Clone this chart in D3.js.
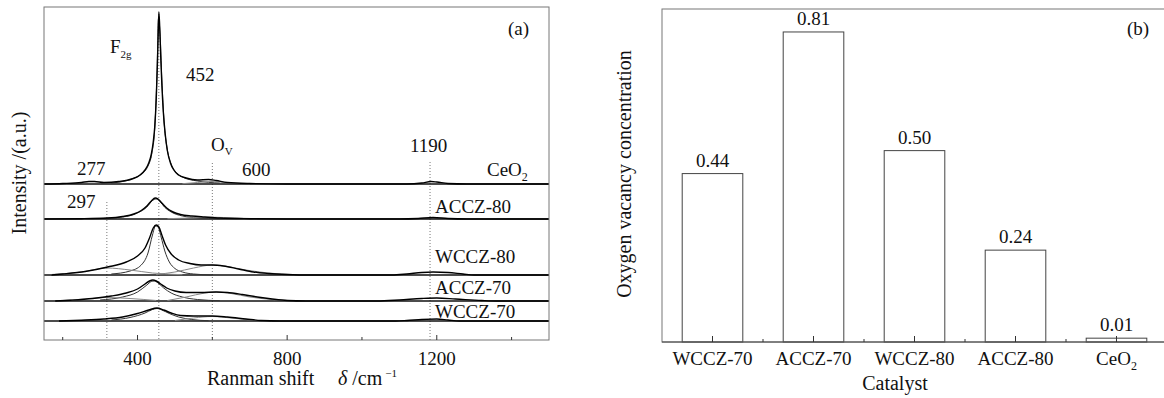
<!DOCTYPE html>
<html>
<head>
<meta charset="utf-8">
<script src="https://cdn.jsdelivr.net/npm/d3@7"></script>
<style>
  body { margin: 0; background: #fff; }
  svg text { font-family: "Liberation Serif", "DejaVu Serif", serif; fill: #111; }
</style>
</head>
<body>
<svg id="chart" width="1164" height="398"></svg>
<script>
// ---- panel (a): Raman spectra, [shift, intensity above baseline] ----
var sampleNames = ["CeO2", "ACCZ-80", "WCCZ-80", "ACCZ-70", "WCCZ-70"];
var sampleOffsets = [156, 121, 65, 39, 19];

var ceo2Measured = [[150,0],[200,0.5],[250,1.5],[270,2.5],[285,2.5],[310,1.5],[350,2.5],[385,5],[407,9],[420,14],[430,21],[437,30],[442,42],[446,57],[450,85],[453,118],[455,145],[457,172],[459,160],[462,128],[465,100],[469,72],[474,50],[480,33],[488,21],[497,14],[510,9],[530,6],[560,4],[590,4.5],[610,3.5],[640,1.5],[700,0.5],[800,0],[1120,0],[1160,1],[1185,2.5],[1200,2],[1230,0.5],[1280,0],[1500,0]];
var ceo2F2g = [[330,1],[380,4.5],[410,10],[428,18],[438,30],[446,55],[452,110],[456,165],[460,152],[465,105],[471,62],[478,38],[488,22],[500,13],[520,7],[560,3],[620,1]];
var ceo2Ov = [[520,0.3],[560,1.5],[600,2.5],[640,1.2],[700,0.2]];

var accz80Measured = [[150,0],[250,0.3],[320,1],[360,2.5],[390,5],[410,8.5],[425,13],[437,18],[447,21],[455,20],[465,16],[478,11],[495,7],[515,4.5],[545,3],[580,2],[620,1],[700,0.3],[800,0],[1100,0],[1150,0.5],[1190,1.5],[1230,0.5],[1280,0],[1500,0]];
var accz80F2g = [[300,0.5],[360,2],[400,6],[425,12],[440,18.5],[450,20],[460,17.5],[472,12],[490,7],[520,3],[560,1.2],[620,0.3]];
var accz80Ov = [[480,0.3],[540,1],[600,1.8],[660,1],[720,0.3]];

var wccz80Measured = [[170,0],[200,1],[260,3.5],[320,8],[370,13],[400,19],[420,27],[432,37],[442,47],[450,50],[457,48],[465,40],[475,30],[490,21],[510,15],[540,11.5],[570,10],[600,10],[630,9],[670,6],[710,3],[750,1.5],[800,0.5],[860,0],[1080,0],[1120,1],[1160,2.5],[1190,3],[1230,2.5],[1270,1],[1300,0],[1500,0]];
var wccz80F2g = [[330,1],[380,4],[410,10],[428,22],[440,40],[448,49],[455,48],[463,38],[473,24],[485,13],[500,6.5],[520,3],[550,1],[600,0]];
var wccz80Ov = [[450,0.5],[500,3],[550,7],[600,10],[640,8.5],[690,5],[750,2],[820,0.3]];
var wccz80Low = [[170,0.5],[250,3],[318,7],[380,5],[440,2],[520,0.3]];

var accz70Measured = [[180,0],[220,0.8],[280,2.5],[330,5],[370,8],[400,12],[420,17],[432,20],[441,21],[450,20],[462,17],[478,13],[500,10],[530,8.5],[570,8.5],[610,9],[640,8.5],[680,6.5],[720,4],[760,2],[800,0.5],[850,0],[1040,0],[1100,1],[1160,2.5],[1200,3],[1250,2],[1320,0.5],[1360,0],[1500,0]];
var accz70F2g = [[300,1],[360,4],[400,9],[425,16],[437,19.5],[445,20],[455,18],[470,13],[490,8],[520,4],[560,1.5],[620,0.3]];
var accz70Ov = [[480,0.5],[530,4],[580,8],[612,9],[650,7.5],[700,4],[760,1.5],[820,0.3]];
var accz70Low = [[200,0.5],[260,2],[318,3.5],[380,2.5],[450,0.5]];

var wccz70Measured = [[190,0],[250,0.8],[310,2],[360,4],[400,7.5],[430,11],[452,13],[470,11],[490,8],[515,5.5],[550,5],[600,5],[640,4],[690,2],[730,0.5],[780,0],[1090,0],[1120,0.5],[1160,1.5],[1200,2],[1230,1],[1260,0],[1500,0]];
var wccz70F2g = [[330,1],[380,3.5],[420,8],[440,11.5],[452,12.5],[465,11],[485,7.5],[510,4],[545,1.5],[590,0.3]];
var wccz70Ov = [[500,0.5],[550,3],[600,4.5],[650,3],[710,0.8],[760,0]];

var measuredCurves = [ceo2Measured, accz80Measured, wccz80Measured, accz70Measured, wccz70Measured];
var componentCurves = [
  [ceo2F2g, ceo2Ov],
  [accz80F2g, accz80Ov],
  [wccz80F2g, wccz80Ov, wccz80Low],
  [accz70F2g, accz70Ov, accz70Low],
  [wccz70F2g, wccz70Ov]
];

// dotted marker lines: [shift, top intensity]
var markerLines = [[318, 138], [457, 326], [600, 177], [1182, 178]];
var xTicksMajor = [400, 800, 1200];
var xTicksMinor = [200, 600, 1000, 1400];

// ---- panel (b): oxygen vacancy concentration ----
var catalysts = ["WCCZ-70", "ACCZ-70", "WCCZ-80", "ACCZ-80", "CeO2"];
var vacancy = [0.44, 0.81, 0.50, 0.24, 0.01];

var svg = d3.select("#chart");

// helper: label with subscript for CeO2
function chemLabel(sel, name) {
  if (name === "CeO2") {
    sel.append("tspan").text("CeO");
    sel.append("tspan").attr("dy", 5).attr("font-size", "12px").text("2");
  } else {
    sel.text(name);
  }
}

// ===================== panel (a) =====================
var ax = {left: 44, right: 549, top: 7, bottom: 340};
var x = d3.scaleLinear().domain([150, 1500]).range([ax.left, ax.right]);
var y = d3.scaleLinear().domain([0, 333]).range([ax.bottom, ax.top]);

var ga = svg.append("g");

// dotted reference lines
ga.selectAll(".marker").data(markerLines).enter().append("line")
  .attr("x1", d => x(d[0])).attr("x2", d => x(d[0]))
  .attr("y1", d => y(d[1])).attr("y2", y(0))
  .attr("stroke", "#777").attr("stroke-width", 1)
  .attr("stroke-dasharray", "1,2");

var line = d3.line().x(d => x(d[0])).curve(d3.curveMonotoneX);

sampleNames.forEach(function(name, i) {
  var off = sampleOffsets[i];
  line.y(d => y(off + d[1]));
  // baseline / separator
  ga.append("line")
    .attr("x1", ax.left).attr("x2", ax.right)
    .attr("y1", y(off)).attr("y2", y(off))
    .attr("stroke", "#111").attr("stroke-width", 1.5);
  componentCurves[i].forEach(function(c, j) {
    ga.append("path").datum(c)
      .attr("fill", "none")
      .attr("stroke", j === 0 ? "#333" : "#888")
      .attr("stroke-width", 1)
      .attr("d", line);
  });
  ga.append("path").datum(measuredCurves[i])
    .attr("fill", "none")
    .attr("stroke", "#000")
    .attr("stroke-width", 1.4)
    .attr("d", line);
});

// frame
ga.append("rect")
  .attr("x", ax.left).attr("y", ax.top)
  .attr("width", ax.right - ax.left).attr("height", ax.bottom - ax.top)
  .attr("fill", "none").attr("stroke", "#777").attr("stroke-width", 1);

// inward ticks
ga.selectAll(".tmaj").data(xTicksMajor).enter().append("line")
  .attr("x1", d => x(d)).attr("x2", d => x(d))
  .attr("y1", ax.bottom).attr("y2", ax.bottom - 5)
  .attr("stroke", "#333");
ga.selectAll(".tmin").data(xTicksMinor).enter().append("line")
  .attr("x1", d => x(d)).attr("x2", d => x(d))
  .attr("y1", ax.bottom).attr("y2", ax.bottom - 3)
  .attr("stroke", "#333");
ga.selectAll(".tlab").data(xTicksMajor).enter().append("text")
  .attr("x", d => x(d)).attr("y", 365)
  .attr("text-anchor", "middle").attr("font-size", "19px")
  .text(d => d);

// sample labels
var sampleLabelY = [176, 213, 263, 294, 318];
sampleNames.forEach(function(name, i) {
  var t = ga.append("text")
    .attr("x", name === "CeO2" ? 487 : 435).attr("y", sampleLabelY[i])
    .attr("font-size", "19px");
  chemLabel(t, name);
});

// peak annotations
var f2g = ga.append("text").attr("x", 110).attr("y", 53).attr("font-size", "19px");
f2g.append("tspan").text("F");
f2g.append("tspan").attr("dy", 5).attr("font-size", "11px").text("2g");
ga.append("text").attr("x", 186).attr("y", 81).attr("font-size", "19px").text("452");
var ov = ga.append("text").attr("x", 211).attr("y", 151).attr("font-size", "19px");
ov.append("tspan").text("O");
ov.append("tspan").attr("dy", 4).attr("font-size", "11px").text("V");
ga.append("text").attr("x", 77).attr("y", 175).attr("font-size", "19px").text("277");
ga.append("text").attr("x", 242).attr("y", 176).attr("font-size", "19px").text("600");
ga.append("text").attr("x", 67).attr("y", 208).attr("font-size", "19px").text("297");
ga.append("text").attr("x", 410).attr("y", 152).attr("font-size", "19px").text("1190");
ga.append("text").attr("x", 508).attr("y", 35).attr("font-size", "19px").text("(a)");

// axis titles
var xt = ga.append("text").attr("x", 207).attr("y", 385).attr("font-size", "20px");
xt.append("tspan").text("Ranman shift");
xt.append("tspan").attr("x", 338).attr("font-style", "italic").text("δ");
xt.append("tspan").text(" /cm");
xt.append("tspan").attr("dy", -8).attr("dx", 3).attr("font-size", "11px").text("−1");
ga.append("text")
  .attr("transform", "translate(26,173) rotate(-90)")
  .attr("text-anchor", "middle").attr("font-size", "20px")
  .text("Intensity /(a.u.)");

// ===================== panel (b) =====================
var bx = {left: 662, right: 1167, top: 9, bottom: 342};
var xb = d3.scaleBand().domain(catalysts).range([bx.left, bx.right]).paddingInner(0.4).paddingOuter(0.2);
var yb = d3.scaleLinear().domain([0, 0.87]).range([bx.bottom, bx.top]);

var gb = svg.append("g");

gb.selectAll(".bar").data(catalysts).enter().append("rect")
  .attr("x", d => xb(d))
  .attr("y", (d, i) => yb(vacancy[i]))
  .attr("width", xb.bandwidth())
  .attr("height", (d, i) => yb(0) - yb(vacancy[i]))
  .attr("fill", "#fff").attr("stroke", "#444").attr("stroke-width", 1);

gb.selectAll(".val").data(catalysts).enter().append("text")
  .attr("x", d => xb(d) + xb.bandwidth() / 2)
  .attr("y", (d, i) => yb(vacancy[i]) - 7)
  .attr("text-anchor", "middle").attr("font-size", "19px")
  .text((d, i) => vacancy[i].toFixed(2));

// frame (right edge falls outside the picture)
gb.append("rect")
  .attr("x", bx.left).attr("y", bx.top)
  .attr("width", bx.right - bx.left).attr("height", bx.bottom - bx.top)
  .attr("fill", "none").attr("stroke", "#777").attr("stroke-width", 1);
gb.append("line")
  .attr("x1", bx.left).attr("x2", bx.right)
  .attr("y1", bx.bottom).attr("y2", bx.bottom)
  .attr("stroke", "#444");

// ticks: major at bar centres, minor between bars
var step = xb.step();
gb.selectAll(".bmaj").data(catalysts).enter().append("line")
  .attr("x1", d => xb(d) + xb.bandwidth() / 2).attr("x2", d => xb(d) + xb.bandwidth() / 2)
  .attr("y1", bx.bottom).attr("y2", bx.bottom - 6)
  .attr("stroke", "#333");
gb.selectAll(".bmin").data(catalysts.slice(1)).enter().append("line")
  .attr("x1", d => xb(d) + xb.bandwidth() / 2 - step / 2).attr("x2", d => xb(d) + xb.bandwidth() / 2 - step / 2)
  .attr("y1", bx.bottom).attr("y2", bx.bottom - 3)
  .attr("stroke", "#333");

gb.selectAll(".blab").data(catalysts).enter().append("text")
  .attr("x", d => xb(d) + xb.bandwidth() / 2)
  .attr("y", 365)
  .attr("text-anchor", "middle").attr("font-size", "19px")
  .each(function(d) { chemLabel(d3.select(this), d); });

gb.append("text").attr("x", 1127).attr("y", 35).attr("font-size", "19px").text("(b)");
gb.append("text").attr("x", 895).attr("y", 390)
  .attr("text-anchor", "middle").attr("font-size", "20px").text("Catalyst");
gb.append("text")
  .attr("transform", "translate(631,174) rotate(-90)")
  .attr("text-anchor", "middle").attr("font-size", "20px")
  .text("Oxygen vacancy concentration");
</script>
</body>
</html>
